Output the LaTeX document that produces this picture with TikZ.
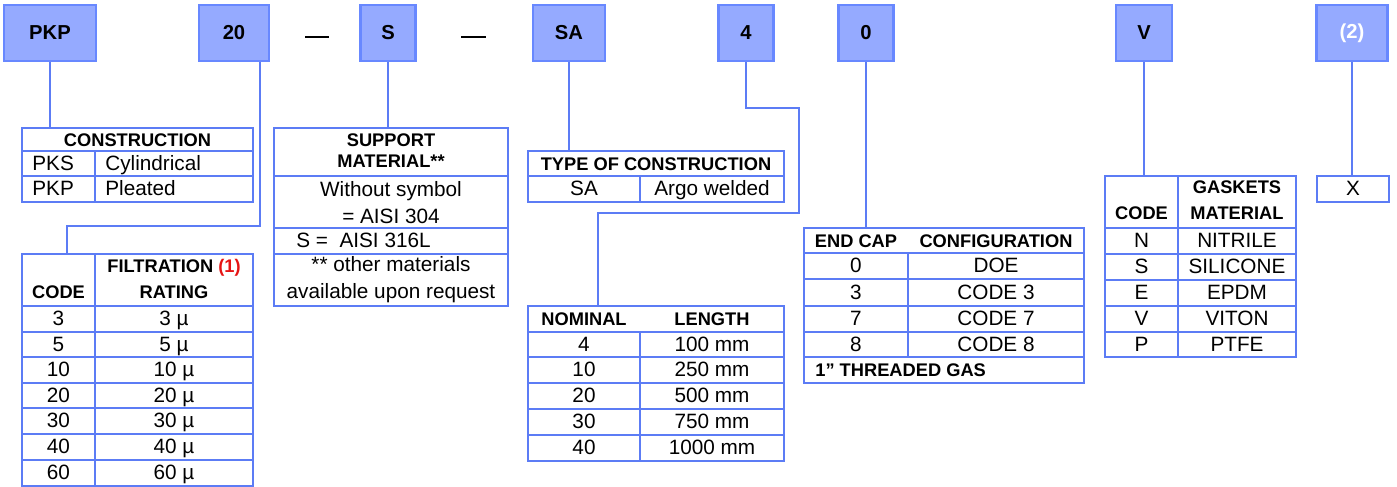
\documentclass[tikz,border=0pt]{standalone}
\usepackage{fontspec}
\setmainfont{Liberation Sans}
\usepackage{tikz}
\usetikzlibrary{fit}
\definecolor{boxfill}{RGB}{149, 170, 255}
\definecolor{boxline}{RGB}{104, 136, 255}
\definecolor{tline}{RGB}{92, 124, 245}
\definecolor{noteRed}{RGB}{230, 20, 20}

\tikzset{
  codebox/.style={draw=boxline, fill=boxfill, line width=1.2pt, inner sep=0pt,
    minimum height=1.12cm, font=\bfseries\fontsize{11.5}{13}\selectfont},
  conn/.style={draw=tline, line width=1.1pt},
  tbl/.style={draw=tline, line width=1.1pt, inner sep=0pt},
  tline/.style={draw=tline, line width=1.1pt},
  hdml/.style={inner sep=0pt, align=center, font=\bfseries\fontsize{10.4}{12}\selectfont},
  cellml/.style={inner sep=0pt, align=center, font=\fontsize{11.8}{15.3}\selectfont},
  hd/.style={hdml, text height=0.72em, text depth=0pt},
  cell/.style={cellml, text height=0.72em, text depth=0pt},
}

\begin{document}
\begin{tikzpicture}[x=0.02cm, y=-0.02cm]
\useasboundingbox (0,0) rectangle (1397,487);

% Code boxes
\node[codebox, minimum width=1.84cm] (cPKP) at (50,33) {PKP};
\node[codebox, minimum width=1.40cm] (c20) at (234,33) {20};
\node[codebox, minimum width=1.10cm] (cS) at (388,33) {S};
\node[codebox, minimum width=1.44cm] (cSA) at (569,33) {SA};
\node[codebox, minimum width=1.10cm] (c4) at (746,33) {4};
\node[codebox, minimum width=1.10cm] (c0) at (866,33) {0};
\node[codebox, minimum width=1.12cm] (cV) at (1144,33) {V};
\node[codebox, minimum width=1.42cm, text=white] (c2) at (1352,33) {(2)};

% Dashes
\draw[line width=0.9pt] (305,37) -- (329,37);
\draw[line width=0.9pt] (461,37) -- (486,37);

% Tables
\node[tbl, fit={(22,128) (253,202)}] (constr) {};
\node[tbl, fit={(22,254) (253,486)}] (filt) {};
\node[tbl, fit={(274,128) (508,306)}] (supp) {};
\node[tbl, fit={(528,151) (784,202)}] (type) {};
\node[tbl, fit={(528,306) (784,461)}] (nom) {};
\node[tbl, fit={(804,228) (1084,383)}] (endcap) {};
\node[tbl, fit={(1105,176) (1296,357)}] (gask) {};
\node[tbl, fit={(1317,176) (1389,202)}] (xbox) {};

% Table rules
\foreach \y in {151,176} \draw[tline] (22,\y) -- (253,\y);
\draw[tline] (95,151) -- (95,202);
\foreach \y in {306,332,357,383,408,434,460} \draw[tline] (22,\y) -- (253,\y);
\draw[tline] (95,254) -- (95,486);
\foreach \y in {176,228,254} \draw[tline] (274,\y) -- (508,\y);
\draw[tline] (528,176) -- (784,176);
\draw[tline] (640,176) -- (640,202);
\foreach \y in {332,357,383,409,435} \draw[tline] (528,\y) -- (784,\y);
\draw[tline] (640,332) -- (640,461);
\foreach \y in {253,279,306,332,357} \draw[tline] (804,\y) -- (1084,\y);
\draw[tline] (908,253) -- (908,357);
\foreach \y in {228,254,280,306,332} \draw[tline] (1105,\y) -- (1296,\y);
\draw[tline] (1178,176) -- (1178,357);

% Connectors
\coordinate (bend20) at (67,226);
\coordinate (bend4a) at (799,108);
\coordinate (bend4b) at (598,213);
\draw[conn] (cPKP.south) -- (cPKP.south |- constr.north);
\draw[conn] ([xshift=-0.2cm]c20.south east) |- (bend20) -- (bend20 |- filt.north);
\draw[conn] (cS.south) -- (cS.south |- supp.north);
\draw[conn] (cSA.south) -- (cSA.south |- type.north);
\draw[conn] (c4.south) |- (bend4a) |- (bend4b) -- (bend4b |- nom.north);
\draw[conn] (c0.south) -- (c0.south |- endcap.north);
\draw[conn] (cV.south) -- (cV.south |- gask.north);
\draw[conn] (c2.south) -- (c2.south |- xbox.north);

% Construction
\node[hd] (constrH) at (137.5,140) {CONSTRUCTION};
\node[cell, anchor=west] (pks) at (32,164) {PKS};
\node[cell, anchor=west] (pksT) at (105,164) {Cylindrical};
\node[cell, anchor=west] (pkp) at (32,189) {PKP};
\node[cell, anchor=west] (pkpT) at (105,189) {Pleated};

% Filtration rating
\node[hd] (filtA) at (58.5,292) {CODE};
\node[hd] (filtB) at (174,266) {FILTRATION \textcolor{noteRed}{(1)}};
\node[hd] (filtC) at (174,292) {RATING};
\foreach \c/\y [count=\i] in {3/319,5/345,10/370,20/396,30/421,40/447,60/473} {
  \node[cell] (fc\i) at (58.5,\y) {\c};
  \node[cell] (fr\i) at (174,\y) {\c\ µ};
}

% Support material
\node[hdml] (suppH) at (391,151) {SUPPORT\\MATERIAL**};
\node[cellml] (supp1) at (391,203) {Without symbol\\= AISI 304};
\node[cell, anchor=west] (supp2) at (296,241) {S =\ \ AISI 316L};
\node[cellml] (supp3) at (391,280) {** other materials\\available upon request};

% Type of construction
\node[hd] (typeH) at (656,164) {TYPE OF CONSTRUCTION};
\node[cell] (typeA) at (584,189) {SA};
\node[cell] (typeB) at (712,189) {Argo welded};

% Nominal length
\node[hd] (nomA) at (584,319) {NOMINAL};
\node[hd] (nomB) at (712,319) {LENGTH};
\foreach \c/\l/\y [count=\i] in {4/100/345,10/250/370,20/500/396,30/750/422,40/1000/448} {
  \node[cell] (nc\i) at (584,\y) {\c};
  \node[cell] (nl\i) at (712,\y) {\l\ mm};
}

% End cap
\node[hd] (endA) at (856,241) {END CAP};
\node[hd] (endB) at (996,241) {CONFIGURATION};
\foreach \c/\t/\y [count=\i] in {0/DOE/266,3/CODE 3/293,7/CODE 7/319,8/CODE 8/345} {
  \node[cell] (ec\i) at (856,\y) {\c};
  \node[cell] (et\i) at (996,\y) {\t};
}
\node[hd, anchor=west] (endG) at (815,370) {1” THREADED GAS};

% Gaskets
\node[hd] (gaskA) at (1141.5,213) {CODE};
\node[hd] (gaskB) at (1237,187) {GASKETS};
\node[hd] (gaskC) at (1237,213) {MATERIAL};
\foreach \c/\t/\y [count=\i] in {N/NITRILE/241,S/SILICONE/267,E/EPDM/293,V/VITON/319,P/PTFE/345} {
  \node[cell] (gc\i) at (1141.5,\y) {\c};
  \node[cell] (gt\i) at (1237,\y) {\t};
}

% Option X
\node[cell] (xT) at (1353,189) {X};
\end{tikzpicture}
\end{document}
